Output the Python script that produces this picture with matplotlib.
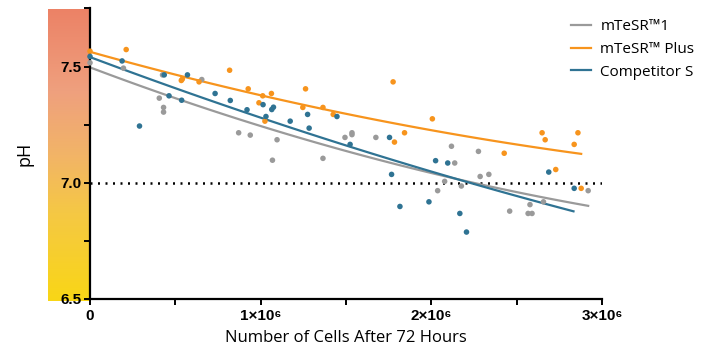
import numpy as np
import matplotlib
matplotlib.use("Agg")
import matplotlib.pyplot as plt
from matplotlib.colors import LinearSegmentedColormap
from matplotlib.ticker import MultipleLocator

# ---------------- data (cells in millions, pH) ----------------
m1_x = [0.0, 0.196, 0.406, 0.431, 0.431, 0.425, 0.655, 0.871, 0.939, 1.069, 1.096,
        1.365, 1.494, 1.535, 1.535, 1.675, 2.118, 2.137, 2.078, 2.037, 2.176, 2.276,
        2.286, 2.337, 2.459, 2.567, 2.590, 2.578, 2.657, 2.919]
m1_y = [7.516, 7.493, 7.364, 7.324, 7.304, 7.464, 7.444, 7.215, 7.205, 7.097, 7.185,
        7.105, 7.195, 7.215, 7.207, 7.195, 7.157, 7.085, 7.006, 6.966, 6.986, 7.135,
        7.027, 7.036, 6.878, 6.868, 6.868, 6.906, 6.918, 6.966]

plus_x = [0.0, 0.212, 0.535, 0.541, 0.639, 0.818, 0.927, 0.990, 1.012, 1.025, 1.063,
          1.247, 1.263, 1.365, 1.425, 1.776, 1.784, 1.843, 2.006, 2.427, 2.649, 2.667,
          2.729, 2.837, 2.859, 2.878]
plus_y = [7.566, 7.573, 7.440, 7.446, 7.434, 7.484, 7.404, 7.344, 7.374, 7.265, 7.384,
          7.324, 7.404, 7.324, 7.294, 7.434, 7.175, 7.215, 7.275, 7.127, 7.215, 7.185,
          7.057, 7.165, 7.215, 6.976]

comp_x = [0.0, 0.188, 0.290, 0.435, 0.463, 0.537, 0.571, 0.733, 0.822, 0.920, 1.014,
          1.031, 1.065, 1.075, 1.173, 1.275, 1.284, 1.447, 1.524, 1.755, 1.767, 1.816,
          1.986, 2.025, 2.096, 2.167, 2.206, 2.688, 2.837]
comp_y = [7.543, 7.524, 7.244, 7.464, 7.374, 7.355, 7.464, 7.384, 7.354, 7.314, 7.336,
          7.285, 7.315, 7.325, 7.265, 7.294, 7.235, 7.285, 7.165, 7.195, 7.036, 6.898,
          6.918, 7.095, 7.085, 6.868, 6.788, 7.046, 6.976]

# fitted curves (knots)
m1_fit_x = [0.0, 1.0, 2.0, 2.919]
m1_fit_y = [7.497, 7.242, 7.044, 6.900]
plus_fit_x = [0.0, 1.0, 2.0, 2.878]
plus_fit_y = [7.566, 7.368, 7.235, 7.121]
comp_fit_x = [0.0, 1.0, 2.0, 2.833]
comp_fit_y = [7.540, 7.282, 7.046, 6.878]

labels = ["mTeSR\u21221", "mTeSR\u2122 Plus", "Competitor S"]
colors = ["#9a9a9a", "#f7941d", "#2f7393"]
threshold = 7.0
xticks = [0, 1, 2, 3]
xticklabels = ["0", "1\u00d710\u2076", "2\u00d710\u2076", "3\u00d710\u2076"]
yticks = [6.5, 7.0, 7.5]

# ---------------- figure ----------------
fig = plt.figure(figsize=(7.14, 3.48), dpi=100)
W, H = 714, 348

# gradient strip behind y axis
gax = fig.add_axes([48 / W, (H - 301) / H, 43 / W, (301 - 9) / H], zorder=0)
cmap = LinearSegmentedColormap.from_list(
    "ph", [(0.0, "#f9d616"), (0.3, "#f5c844"), (0.5, "#f2b467"),
           (0.72, "#efa07e"), (1.0, "#ec8266")])
grad = np.linspace(0, 1, 256).reshape(-1, 1)
gax.imshow(grad, aspect="auto", cmap=cmap, origin="lower", extent=[0, 1, 0, 1])
gax.axis("off")

ax = fig.add_axes([90 / W, (H - 299) / H, (602 - 90) / W, (299 - 8.4) / H], zorder=1)
ax.patch.set_alpha(0)

series = [(m1_x, m1_y, m1_fit_x, m1_fit_y),
          (plus_x, plus_y, plus_fit_x, plus_fit_y),
          (comp_x, comp_y, comp_fit_x, comp_fit_y)]
for (sx, sy, fx, fy), lab, c in zip(series, labels, colors):
    ax.scatter(sx, sy, s=16, color=c, edgecolors="none", zorder=3, clip_on=False)
    coef = np.polyfit(fx, fy, 2)
    xx = np.linspace(fx[0], fx[-1], 100)
    ax.plot(xx, np.polyval(coef, xx), color=c, lw=1.6, label=lab, zorder=2)

ax.plot([0, 3], [threshold, threshold], color="black", lw=1.8,
        linestyle=(0, (0.8, 2.2)), zorder=1)

ax.set_xlim(0, 3)
ax.set_ylim(6.5, 7.75)
ax.spines["top"].set_visible(False)
ax.spines["right"].set_visible(False)
for s in ("left", "bottom"):
    ax.spines[s].set_linewidth(1.6)

tickfont = dict(family=["Liberation Sans", "DejaVu Sans"], weight="bold", size=11)
ax.set_xticks(xticks)
ax.set_xticklabels(xticklabels, **tickfont)
ax.set_yticks(yticks)
ax.set_yticklabels([f"{v:.1f}" for v in yticks], **tickfont)
ax.xaxis.set_minor_locator(MultipleLocator(0.5))
ax.yaxis.set_minor_locator(MultipleLocator(0.25))
ax.tick_params(which="both", direction="out", width=1.4, length=4, color="black")
ax.tick_params(axis="x", pad=3)
ax.tick_params(axis="y", pad=2)

labfont = dict(family=["Open Sans", "DejaVu Sans"], size=12)
ax.set_xlabel("Number of Cells After 72 Hours", labelpad=5, **labfont)
ax.set_ylabel("pH", family=["Open Sans", "DejaVu Sans"], size=13)
ax.yaxis.set_label_coords(-0.11, 0.5)

leg = ax.legend(loc="upper left", bbox_to_anchor=(0.912, 1.01), frameon=False,
                prop=dict(family=["Open Sans", "DejaVu Sans"], size=11),
                handlelength=1.3, handletextpad=0.65, labelspacing=0.5)

fig.savefig("out.png", dpi=100)
